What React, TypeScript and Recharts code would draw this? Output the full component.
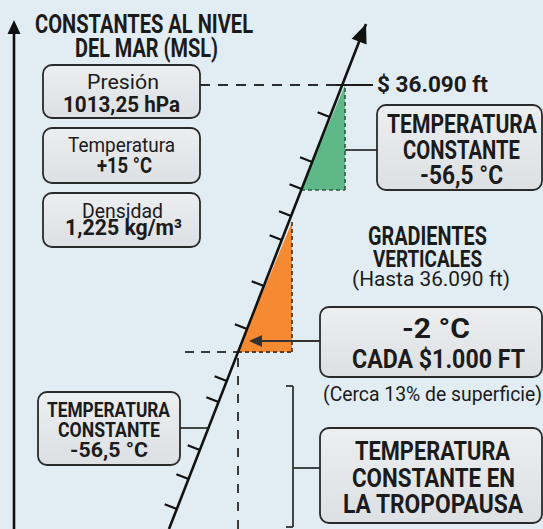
import React from 'react';
import {
  ComposedChart,
  XAxis,
  YAxis,
  Line,
  Scatter,
  ReferenceLine,
  ReferenceArea,
  ReferenceDot,
} from 'recharts';

const W = 543;
const H = 529;

// Lapse-rate line (x = temperature-ish position, level = altitude level)
const lapseX = [169, 366];
const lapseLevel = [0, 505];
// Tick marks along the lapse line (altitude levels)
const tickLevels = [412, 367, 340, 313, 289, 243, 200, 148, 127, 79, 50, 20];
// Key altitude levels
const tropopauseLevel = 444; // $ 36.090 ft
const lowLevel = 177;
// Highlighted triangles [xStart, xEnd], [levelStart, levelEnd]
const greenX = [301, 345];
const greenLevel = [339, 444];
const orangeX = [238, 292];
const orangeLevel = [177, 307];

// Info boxes: [x1, x2, level1, level2]
const boxes = [
  [43, 200, 411, 464],
  [43, 200, 346, 401],
  [43, 200, 282, 336],
  [377, 542, 339, 424],
  [320, 542, 152, 222],
  [320, 542, 6, 101],
  [38, 180, 64, 137],
];

// Texts: text, x, level, size, bold, length
const texts: [string, number, number, number, boolean, number][] = [
  ['CONSTANTES AL NIVEL', 144, 496, 25, true, 218],
  ['DEL MAR (MSL)', 146.5, 472, 25, true, 143],
  ['Presión', 123, 440, 21, false, 72],
  ['1013,25 hPa', 121.5, 417, 22, true, 117],
  ['Temperatura', 121.5, 377, 21, false, 107],
  ['+15 °C', 124.5, 356, 22, true, 55],
  ['Densidad', 122.5, 311, 21, false, 81],
  ['1,225 kg/m³', 123.5, 294, 22, true, 117],
  ['$ 36.090 ft', 432.5, 437, 22, true, 111],
  ['TEMPERATURA', 462, 396, 25, true, 150],
  ['CONSTANTE', 461.5, 370, 25, true, 117],
  ['-56,5 °C', 461.5, 345, 25, true, 83],
  ['GRADIENTES', 427.5, 284, 25, true, 119],
  ['VERTICALES', 427.5, 262, 24, true, 109],
  ['(Hasta 36.090 ft)', 431, 243, 21, false, 158],
  ['-2 °C', 436, 191, 27, true, 68],
  ['CADA $1.000 FT', 438.5, 161, 25, true, 173],
  ['(Cerca 13% de superficie)', 432.5, 128, 21, false, 219],
  ['TEMPERATURA', 432.5, 69, 25, true, 155],
  ['CONSTANTE EN', 433.5, 42, 25, true, 163],
  ['LA TROPOPAUSA', 433, 16, 25, true, 180],
  ['TEMPERATURA', 108.5, 112, 20, true, 123],
  ['CONSTANTE', 109, 92, 20, true, 102],
  ['-56,5 °C', 109, 72, 20, true, 78],
];

const FONT = 'Roboto, "Noto Sans", sans-serif';
const INK = '#1b1b1b';

const xAt = (lv: number) =>
  lapseX[0] + ((lapseX[1] - lapseX[0]) * (lv - lapseLevel[0])) / (lapseLevel[1] - lapseLevel[0]);

const lineData = lapseLevel.map((lv, i) => ({ x: lapseX[i], level: lv }));
const tickData = tickLevels.map((lv) => ({ x: xAt(lv), level: lv }));

// direction of the line in pixels (scales are 1:1 here)
const dx = lapseX[1] - lapseX[0];
const dy = -(lapseLevel[1] - lapseLevel[0]);
const dn = Math.sqrt(dx * dx + dy * dy);
const ux = dx / dn;
const uy = dy / dn;
const px = -(-uy); // perpendicular pointing left/up
const py = -ux;

const TickShape = (p: any) => {
  const L = 13;
  return (
    <line
      x1={p.cx}
      y1={p.cy}
      x2={p.cx - L * -uy * -1 * -1 + 0 - L * 0}
      y2={p.cy}
      stroke="none"
    />
  );
};

const TickMark = (p: any) => {
  const L = 13;
  // perpendicular (left, slightly up): (uy, -ux) where u=(ux,uy) up-right
  const vx = uy; // negative
  const vy = -ux; // negative (up)
  return (
    <line x1={p.cx} y1={p.cy} x2={p.cx + L * vx} y2={p.cy + L * vy} stroke="#111" strokeWidth={2.2} />
  );
};

const ArrowHead = (p: any) => {
  const len = 19;
  const hw = 8;
  const bx = p.cx - len * ux;
  const by = p.cy - len * uy;
  const qx = -uy;
  const qy = ux;
  return (
    <polygon
      points={`${p.cx},${p.cy} ${bx + hw * qx},${by + hw * qy} ${bx - hw * qx},${by - hw * qy}`}
      fill="#111"
    />
  );
};

const UpArrowHead = (p: any) => (
  <polygon points={`${p.cx},${p.cy} ${p.cx - 6.5},${p.cy + 14} ${p.cx + 6.5},${p.cy + 14}`} fill="#111" />
);

const LeftArrowHead = (p: any) => (
  <polygon points={`${p.cx},${p.cy} ${p.cx + 13},${p.cy - 6} ${p.cx + 13},${p.cy + 6}`} fill="#333" />
);

const RightTriangle = (color: string) => (p: any) => {
  const { x, y, width, height } = p;
  return (
    <polygon
      points={`${x + width},${y} ${x + width},${y + height} ${x},${y + height}`}
      fill={color}
      stroke="none"
    />
  );
};

const BoxShape = (p: any) => (
  <rect
    x={p.x}
    y={p.y}
    width={p.width}
    height={p.height}
    rx={9}
    ry={9}
    fill="url(#boxGrad)"
    stroke="#2a2a2a"
    strokeWidth={1.8}
  />
);

export default function App() {
  void px;
  void py;
  void TickShape;
  return (
    <div style={{ position: 'absolute', left: 0, top: 0, width: W, height: H, background: '#e2edf3' }}>
      <ComposedChart width={W} height={H} margin={{ top: 0, right: 0, bottom: 0, left: 0 }}>
        <defs>
          <linearGradient id="boxGrad" x1="0" y1="0" x2="0" y2="1">
            <stop offset="0%" stopColor="#eceef0" />
            <stop offset="100%" stopColor="#dde0e3" />
          </linearGradient>
        </defs>
        <XAxis type="number" dataKey="x" domain={[0, W]} hide allowDataOverflow />
        <YAxis type="number" dataKey="level" domain={[0, H]} hide allowDataOverflow />

        {/* triangles */}
        <ReferenceArea
          x1={greenX[0]}
          x2={greenX[1]}
          y1={greenLevel[0]}
          y2={greenLevel[1]}
          shape={RightTriangle('#5fb887')}
          zIndex={50}
        />
        <ReferenceArea
          x1={orangeX[0]}
          x2={orangeX[1]}
          y1={orangeLevel[0]}
          y2={orangeLevel[1]}
          shape={RightTriangle('#f68a33')}
          zIndex={50}
        />

        {/* triangle borders */}
        <ReferenceLine segment={[{ x: greenX[1], y: greenLevel[0] }, { x: greenX[1], y: greenLevel[1] }]} stroke="#2e5a40" strokeWidth={1.6} strokeDasharray="4 3" zIndex={60} />
        <ReferenceLine segment={[{ x: greenX[0], y: greenLevel[0] }, { x: greenX[1], y: greenLevel[0] }]} stroke="#2e5a40" strokeWidth={1.6} strokeDasharray="4 3" zIndex={60} />
        <ReferenceLine segment={[{ x: orangeX[1], y: orangeLevel[0] }, { x: orangeX[1], y: orangeLevel[1] }]} stroke="#5a3a22" strokeWidth={1.8} strokeDasharray="4 3" zIndex={60} />
        <ReferenceLine segment={[{ x: orangeX[0], y: orangeLevel[0] }, { x: orangeX[1], y: orangeLevel[0] }]} stroke="#5a3a22" strokeWidth={1.8} strokeDasharray="4 3" zIndex={60} />

        {/* guide lines */}
        <ReferenceLine segment={[{ x: 200, y: tropopauseLevel }, { x: 336, y: tropopauseLevel }]} stroke="#2b2b2b" strokeWidth={2} strokeDasharray="10 8" zIndex={60} />
        <ReferenceLine segment={[{ x: 336, y: tropopauseLevel }, { x: 373, y: tropopauseLevel }]} stroke="#1b1b1b" strokeWidth={2.2} zIndex={60} />
        <ReferenceLine segment={[{ x: 185, y: lowLevel }, { x: 238, y: lowLevel }]} stroke="#3a3a3a" strokeWidth={2} strokeDasharray="9 7" zIndex={60} />
        <ReferenceLine segment={[{ x: 238, y: 0 }, { x: 238, y: lowLevel }]} stroke="#3a3a3a" strokeWidth={2} strokeDasharray="9 9" zIndex={60} />

        {/* connectors */}
        <ReferenceLine segment={[{ x: 345, y: 379 }, { x: 377, y: 379 }]} stroke="#333" strokeWidth={1.8} zIndex={60} />
        <ReferenceLine segment={[{ x: 180, y: 101 }, { x: 208, y: 101 }]} stroke="#333" strokeWidth={1.8} zIndex={60} />
        <ReferenceLine segment={[{ x: 258, y: 188 }, { x: 320, y: 188 }]} stroke="#333" strokeWidth={2} zIndex={60} />
        <ReferenceDot x={249} y={188} r={1} shape={LeftArrowHead} zIndex={60} />
        <ReferenceLine segment={[{ x: 286, y: 143 }, { x: 293, y: 143 }]} stroke="#333" strokeWidth={1.8} zIndex={60} />
        <ReferenceLine segment={[{ x: 293, y: 143 }, { x: 293, y: 2 }]} stroke="#333" strokeWidth={1.8} zIndex={60} />
        <ReferenceLine segment={[{ x: 286, y: 2 }, { x: 293, y: 2 }]} stroke="#333" strokeWidth={1.8} zIndex={60} />
        <ReferenceLine segment={[{ x: 293, y: 61 }, { x: 320, y: 61 }]} stroke="#333" strokeWidth={1.8} zIndex={60} />

        {/* left altitude axis */}
        <ReferenceLine segment={[{ x: 14, y: 0 }, { x: 14, y: 497 }]} stroke="#111" strokeWidth={2.6} zIndex={60} />
        <ReferenceDot x={14} y={509} r={1} shape={UpArrowHead} zIndex={60} />

        {/* lapse line */}
        <Line
          data={lineData}
          dataKey="level"
          type="linear"
          stroke="#111"
          strokeWidth={2.6}
          dot={false}
          activeDot={false}
          isAnimationActive={false}
          zIndex={400}
        />
        <Scatter data={tickData} dataKey="level" shape={TickMark} isAnimationActive={false} zIndex={500} />
        <ReferenceDot x={lapseX[1]} y={lapseLevel[1]} r={1} shape={ArrowHead} zIndex={500} />

        {/* boxes */}
        {boxes.map((b, i) => (
          <ReferenceArea key={`b${i}`} x1={b[0]} x2={b[1]} y1={b[2]} y2={b[3]} shape={BoxShape} zIndex={700} />
        ))}

        {/* texts */}
        {texts.map((t, i) => (
          <ReferenceDot
            key={`t${i}`}
            x={t[1]}
            y={t[2]}
            r={1}
            zIndex={900}
            shape={(p: any) => (
              <text
                x={p.cx}
                y={p.cy}
                textAnchor="middle"
                fontFamily={FONT}
                fontSize={t[3]}
                fontWeight={t[4] ? 700 : 400}
                fill={INK}
                textLength={t[5]}
                lengthAdjust="spacingAndGlyphs"
              >
                {t[0]}
              </text>
            )}
          />
        ))}
      </ComposedChart>
    </div>
  );
}
